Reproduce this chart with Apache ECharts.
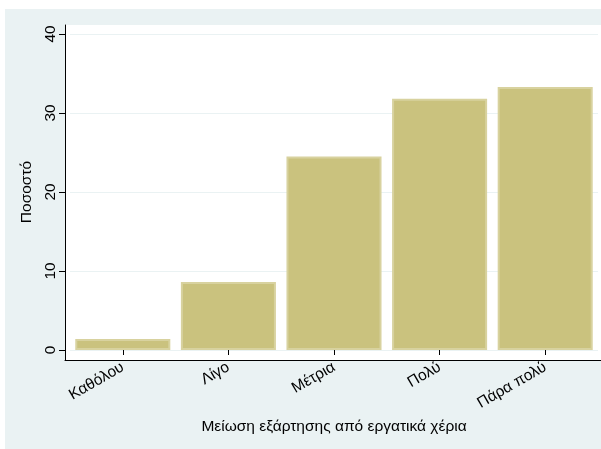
<!DOCTYPE html>
<html>
<head>
<meta charset="utf-8">
<script src="https://cdn.jsdelivr.net/npm/echarts@6/dist/echarts.min.js"></script>
<style>
  html, body { margin: 0; padding: 0; background: #fff; }
  #main { width: 601px; height: 449px; }
</style>
</head>
<body>
<div id="main"></div>
<script>
// categories and percentages
var categories = ['Καθόλου', 'Λίγο', 'Μέτρια', 'Πολύ', 'Πάρα πολύ'];
var percents = [1.4, 8.6, 24.5, 31.8, 33.3];
var yTicks = [0, 10, 20, 30, 40];

var bg = '#eaf2f3';
var font = 'Liberation Sans, Arial, sans-serif';
var fs = 15.5;

var myChart = echarts.init(document.getElementById('main'));

var option = {
  backgroundColor: '#fff',
  animation: false,
  textStyle: { fontFamily: font },
  graphic: [
    { type: 'rect', z: -100, shape: { x: 5, y: 9, width: 596, height: 440 }, style: { fill: bg } }
  ],
  grid: [
    // frame: white plot area with left/bottom axis lines
    { left: 65, right: 0, top: 25, bottom: 89, show: true, backgroundColor: '#fff', borderWidth: 0 },
    // data grid
    { left: 70, right: 3, top: 34, bottom: 99 }
  ],
  xAxis: [
    {
      gridIndex: 0, type: 'category', data: categories,
      axisLine: { show: true, lineStyle: { color: '#000', width: 1 } },
      axisTick: { show: false }, axisLabel: { show: false }, splitLine: { show: false }
    },
    {
      gridIndex: 1, type: 'category', data: categories, offset: 10,
      name: 'Μείωση εξάρτησης από εργατικά χέρια',
      nameLocation: 'middle', nameGap: 59,
      nameTextStyle: { fontSize: fs, color: '#000', fontFamily: font },
      axisLine: { show: false },
      axisTick: { show: true, alignWithLabel: true, length: 5, lineStyle: { color: '#000' } },
      axisLabel: { rotate: 30, fontSize: fs, color: '#000', margin: 6, fontFamily: font },
      splitLine: { show: false }
    }
  ],
  yAxis: [
    {
      gridIndex: 0, type: 'value', min: 0, max: 1,
      axisLine: { show: true, lineStyle: { color: '#000', width: 1 } },
      axisTick: { show: false }, axisLabel: { show: false }, splitLine: { show: false }
    },
    {
      gridIndex: 1, type: 'value', min: yTicks[0], max: yTicks[yTicks.length - 1], interval: 10,
      offset: 5,
      name: 'Ποσοστό', nameLocation: 'middle', nameGap: 26,
      nameTextStyle: { fontSize: fs, color: '#000', fontFamily: font },
      axisLine: { show: false },
      axisTick: { show: true, length: 6, lineStyle: { color: '#000' } },
      axisLabel: { rotate: 90, fontSize: fs, color: '#000', margin: 6, fontFamily: font },
      splitLine: { show: true, lineStyle: { color: bg, width: 1 } }
    }
  ],
  series: [
    {
      type: 'bar', xAxisIndex: 1, yAxisIndex: 1,
      data: percents, barWidth: '90%',
      itemStyle: { color: '#cac27e', borderColor: '#d8d29f', borderWidth: 2 }
    }
  ]
};

myChart.setOption(option);
</script>
</body>
</html>
